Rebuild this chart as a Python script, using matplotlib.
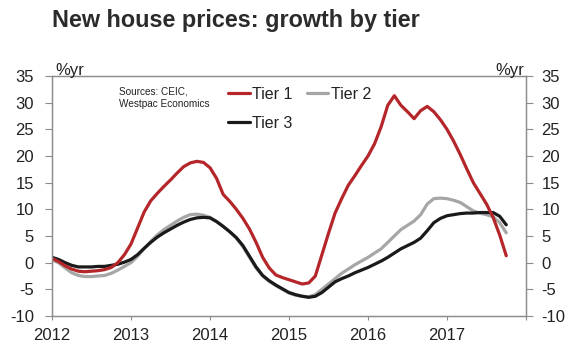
import matplotlib
matplotlib.use("Agg")
import matplotlib.pyplot as plt
import numpy as np

plt.rcParams['font.family'] = ['Liberation Sans', 'DejaVu Sans']

start_year = 2012
tier1 = [0.8, 0.2, -0.6, -1.2, -1.6, -1.7, -1.6, -1.5, -1.3, -0.9, 0.0, 1.5,
         3.5, 6.5, 9.5, 11.6, 13.0, 14.3, 15.5, 16.8, 18.0, 18.7, 19.0, 18.8,
         17.8, 15.8, 12.8, 11.5, 10.0, 8.3, 6.3, 3.8, 1.0, -1.0, -2.3, -2.8,
         -3.2, -3.6, -4.0, -3.8, -2.5, 1.5, 5.5, 9.3, 12.0, 14.5, 16.3, 18.2,
         20.0, 22.3, 25.5, 29.5, 31.3, 29.5, 28.3, 27.0, 28.5, 29.3, 28.3, 26.8,
         25.0, 22.8, 20.3, 17.6, 15.0, 13.0, 11.0, 8.5, 5.2, 1.3]
tier2 = [0.5, 0.0, -1.0, -1.9, -2.4, -2.6, -2.6, -2.5, -2.4, -2.0, -1.4, -0.7,
         0.0, 1.2, 2.6, 4.0, 5.2, 6.2, 7.0, 7.8, 8.5, 9.0, 9.1, 8.9,
         8.5, 7.7, 6.8, 5.8, 4.6, 3.0, 1.0, -1.0, -2.5, -3.5, -4.3, -5.0,
         -5.7, -6.1, -6.3, -6.4, -6.0, -5.0, -4.0, -3.0, -2.0, -1.2, -0.4, 0.3,
         1.0, 1.8, 2.6, 3.8, 5.0, 6.2, 7.0, 7.8, 9.0, 11.0, 12.0, 12.1,
         12.0, 11.7, 11.3, 10.5, 9.7, 9.3, 9.0, 8.6, 7.5, 5.6]
tier3 = [1.0, 0.6, 0.0, -0.5, -0.8, -0.8, -0.8, -0.7, -0.7, -0.5, -0.3, 0.1,
         0.6, 1.5, 2.7, 3.8, 4.8, 5.6, 6.3, 7.0, 7.6, 8.1, 8.4, 8.5,
         8.4, 7.7, 6.8, 5.8, 4.7, 3.2, 1.2, -0.8, -2.4, -3.4, -4.2, -4.9,
         -5.6, -6.0, -6.3, -6.5, -6.3, -5.6, -4.6, -3.6, -3.0, -2.5, -1.9, -1.4,
         -0.9, -0.3, 0.3, 1.0, 1.8, 2.6, 3.2, 3.8, 4.6, 6.0, 7.5, 8.3,
         8.8, 9.0, 9.2, 9.3, 9.3, 9.4, 9.4, 9.4, 8.7, 7.1]
x_ticks = [2012, 2013, 2014, 2015, 2016, 2017, 2018]
x_labels = ['2012', '2013', '2014', '2015', '2016', '2017', '']
y_ticks = [-10, -5, 0, 5, 10, 15, 20, 25, 30, 35]

x = start_year + np.arange(len(tier1)) / 12.0

W, H = 580, 352
fig = plt.figure(figsize=(W / 100, H / 100), dpi=100)
rect = [52 / W, 1 - 316 / H, (526 - 52) / W, (316 - 76) / H]
ax = fig.add_axes(rect)

spine_col = '#8c8c8c'
text_col = '#222222'

l2, = ax.plot(x, tier2, color='#a6a6a6', lw=2.3, label='Tier 2', solid_capstyle='round')
l3, = ax.plot(x, tier3, color='#1a1a1a', lw=2.3, label='Tier 3', solid_capstyle='round')
l1, = ax.plot(x, tier1, color='#b5262a', lw=2.3, label='Tier 1', solid_capstyle='round')

ax.set_xlim(2012, 2018)
ax.set_ylim(-10, 35)
ax.set_xticks(x_ticks)
ax.set_xticklabels(x_labels)
ax.set_yticks(y_ticks)
ax.set_yticklabels([str(v) for v in y_ticks])
ax.tick_params(axis='both', direction='out', length=5, width=0.8, color=spine_col,
               labelsize=12, labelcolor=text_col)
ax.tick_params(axis='y', pad=8)
ax.tick_params(axis='x', length=3, pad=6)
for s in ax.spines.values():
    s.set_color(spine_col)
    s.set_linewidth(0.9)

ax2 = ax.twinx()
ax2.set_ylim(-10, 35)
ax2.set_yticks(y_ticks)
ax2.set_yticklabels([str(v) for v in y_ticks])
ax2.tick_params(axis='y', direction='out', length=5, width=0.8, color=spine_col,
                labelsize=12, labelcolor=text_col, pad=6)
for s in ax2.spines.values():
    s.set_color(spine_col)
    s.set_linewidth(0.9)

fig.text(55 / W, 1 - 75 / H, '%yr', fontsize=12, color=text_col, ha='left', va='baseline')
fig.text(524 / W, 1 - 75 / H, '%yr', fontsize=12, color=text_col, ha='right', va='baseline')

fig.text(52 / W, 1 - 27 / H, 'New house prices: growth by tier', fontsize=16.8,
         fontweight='bold', color='#2b2b2b', ha='left', va='baseline')

ax.text((119 - 52) / 474, (316 - 87) / 240, 'Sources: CEIC,\nWestpac Economics',
        transform=ax.transAxes, fontsize=7.2, color=text_col, ha='left', va='top',
        linespacing=1.25)

leg = ax2.legend(handles=[l1, l3, l2], ncol=2, frameon=False, fontsize=11.5,
                 loc='upper left', bbox_to_anchor=(228 / W, 1 - 87 / H),
                 bbox_transform=fig.transFigure, handlelength=1.35, handletextpad=0.15,
                 columnspacing=0.9, labelspacing=0.85, borderaxespad=0, borderpad=0)
for t in leg.get_texts():
    t.set_color(text_col)

fig.savefig('out.png', dpi=100)
